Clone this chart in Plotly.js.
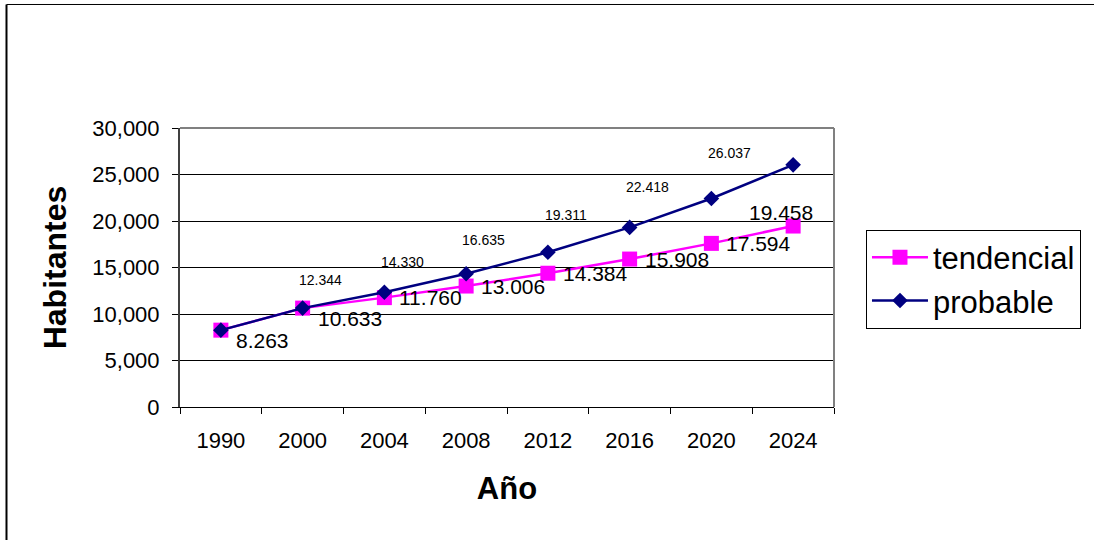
<!DOCTYPE html>
<html>
<head>
<meta charset="utf-8">
<script src="https://cdn.plot.ly/plotly-3.0.1.min.js"></script>
<style>
html,body{margin:0;padding:0;background:#fff;}
#chart{width:1094px;height:540px;}
</style>
</head>
<body>
<div id="chart"></div>
<script>
// ---- data ----
var years = ["1990", "2000", "2004", "2008", "2012", "2016", "2020", "2024"];
var tendencial = [8263, 10633, 11760, 13006, 14384, 15908, 17594, 19458];
var probable = [8263, 10633, 12344, 14330, 16635, 19311, 22418, 26037];
var probableLabelFrom = 2; // probable labels shown from 2004 on
var yTicks = [0, 5000, 10000, 15000, 20000, 25000, 30000];

function fmt(v) { return (v / 1000).toFixed(3); }
var xIdx = years.map(function (_, i) { return i; });
var boundaries = [];
for (var b = 0; b <= years.length; b++) boundaries.push(b - 0.5);

var FONT = "Liberation Sans, Arial, sans-serif";

var traces = [
  {
    type: "scatter", mode: "lines+markers", name: "tendencial",
    x: xIdx, y: tendencial,
    line: {color: "#FF00FF", width: 2.5},
    marker: {symbol: "square", size: 15, color: "#FF00FF"},
    hoverinfo: "skip", cliponaxis: false
  },
  {
    type: "scatter", mode: "lines+markers", name: "probable",
    x: xIdx, y: probable,
    line: {color: "#000080", width: 2.5},
    marker: {symbol: "diamond", size: 12, color: "#000080"},
    hoverinfo: "skip", cliponaxis: false
  }
];

var ann = [];
tendencial.forEach(function (v, i) {
  var last = i === tendencial.length - 1;
  var a = {
    x: xIdx[i], y: v, xref: "x", yref: "y", text: fmt(v), showarrow: false,
    font: {family: FONT, size: 21, color: "#000"},
    xanchor: "left", yanchor: "middle", xshift: 13, yshift: 0
  };
  if (i < 2) a.yshift = -10;
  if (last) { a.xanchor = "center"; a.xshift = -12; a.yshift = 14; }
  ann.push(a);
});
probable.forEach(function (v, i) {
  if (i < probableLabelFrom) return;
  ann.push({
    x: xIdx[i], y: v, xref: "x", yref: "y", text: fmt(v), showarrow: false,
    font: {family: FONT, size: 14, color: "#000"},
    xanchor: "center", yanchor: "middle", xshift: -64, yshift: 12
  });
});

var layout = {
  width: 1094, height: 540,
  margin: {l: 180, r: 260, t: 128, b: 133},
  paper_bgcolor: "#fff", plot_bgcolor: "#fff",
  font: {family: FONT, color: "#000"},
  showlegend: true,
  legend: {
    x: 1.0489, y: 0.636, xanchor: "left", yanchor: "top",
    bordercolor: "#000", borderwidth: 1, bgcolor: "#fff",
    font: {size: 31, color: "#000"}, tracegroupgap: 0,
    itemwidth: 56
  },
  xaxis: {
    range: [-0.5, years.length - 0.5], fixedrange: true,
    tickvals: xIdx, ticktext: years, ticks: "",
    showgrid: false, zeroline: false,
    showline: true, linecolor: "#000", linewidth: 1,
    minor: {tickvals: boundaries, ticks: "outside", ticklen: 6, tickcolor: "#000", showgrid: false},
    tickfont: {size: 22}, ticklabelstandoff: 14,
    title: {text: "Año", font: {size: 31, weight: "bold"}, standoff: 24}
  },
  yaxis: {
    range: [0, 30000], tickvals: yTicks, tickformat: ",", fixedrange: true,
    showgrid: true, gridcolor: "#000", gridwidth: 1, zeroline: false,
    showline: true, linecolor: "#404040", linewidth: 2,
    ticks: "outside", ticklen: 6, tickcolor: "#000",
    tickfont: {size: 22}, ticklabelstandoff: 8,
    title: {text: "Habitantes", font: {size: 32, weight: "bold"}, standoff: 16}
  },
  shapes: [
    {type: "line", xref: "paper", yref: "paper", x0: 0, x1: 1, y0: 1, y1: 1,
     line: {color: "#808080", width: 2}},
    {type: "line", xref: "paper", yref: "paper", x0: 1, x1: 1, y0: 0, y1: 1,
     line: {color: "#808080", width: 2}},
    // outer chart border (top and left visible)
    {type: "line", xref: "paper", yref: "paper", x0: -0.2653, x1: 1.5, y0: 1.4427, y1: 1.4427,
     line: {color: "#000", width: 1}},
    {type: "line", xref: "paper", yref: "paper", x0: -0.2653, x1: -0.2653, y0: -0.5, y1: 1.4427,
     line: {color: "#000", width: 2}}
  ],
  annotations: ann
};

Plotly.newPlot("chart", traces, layout, {staticPlot: true, displayModeBar: false});
</script>
</body>
</html>
